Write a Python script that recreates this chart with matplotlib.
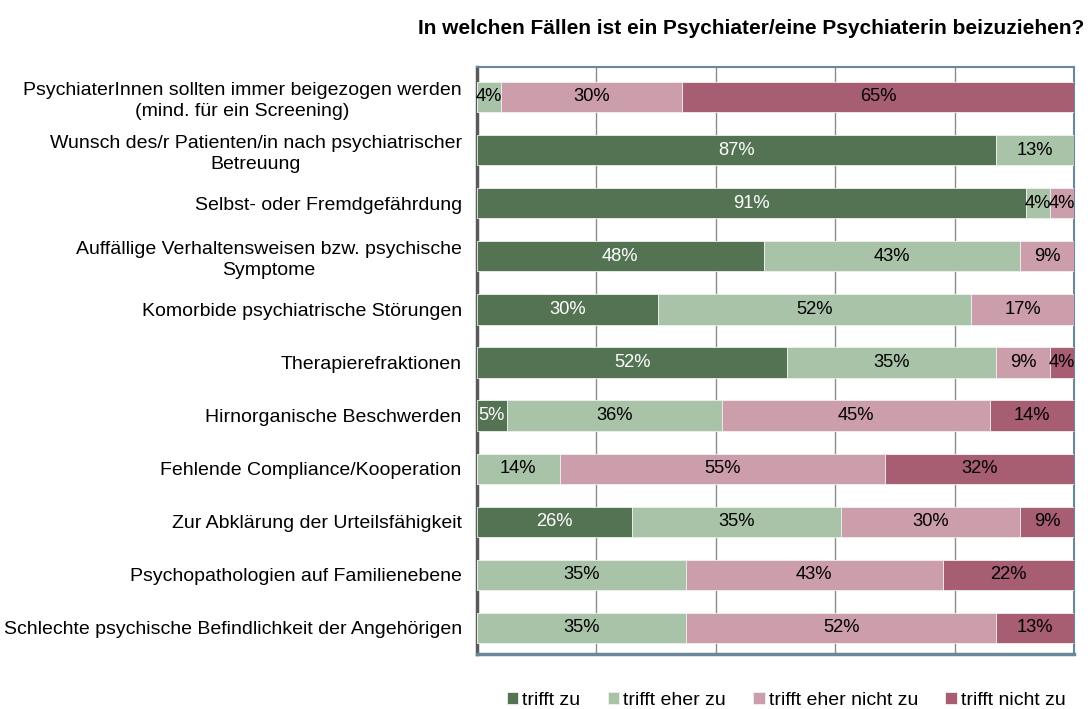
import matplotlib
matplotlib.use("Agg")
import matplotlib.pyplot as plt
import numpy as np

plt.rcParams['font.family'] = ['Liberation Sans', 'DejaVu Sans']

categories = [
    "PsychiaterInnen sollten immer beigezogen werden\n(mind. für ein Screening)",
    "Wunsch des/r Patienten/in nach psychiatrischer\nBetreuung",
    "Selbst- oder Fremdgefährdung",
    "Auffällige Verhaltensweisen bzw. psychische\nSymptome",
    "Komorbide psychiatrische Störungen",
    "Therapierefraktionen",
    "Hirnorganische Beschwerden",
    "Fehlende Compliance/Kooperation",
    "Zur Abklärung der Urteilsfähigkeit",
    "Psychopathologien auf Familienebene",
    "Schlechte psychische Befindlichkeit der Angehörigen",
]
series_names = ["trifft zu", "trifft eher zu", "trifft eher nicht zu", "trifft nicht zu"]
trifft_zu         = [0, 87, 91, 48, 30, 52, 5, 0, 26, 0, 0]
trifft_eher_zu    = [4, 13, 4, 43, 52, 35, 36, 14, 35, 35, 35]
eher_nicht_zu     = [30, 0, 4, 9, 17, 9, 45, 55, 30, 43, 52]
trifft_nicht_zu   = [65, 0, 0, 0, 0, 4, 14, 32, 9, 22, 13]
title = "In welchen Fällen ist ein Psychiater/eine Psychiaterin beizuziehen?"

colors = ["#537352", "#a9c3a8", "#cc9daa", "#a85e72"]
text_colors = ["white", "black", "black", "black"]

FS = 14.0

data = np.array([trifft_zu, trifft_eher_zu, eher_nicht_zu, trifft_nicht_zu], dtype=float)
totals = data.sum(axis=0)
norm = data / totals * 100

fig = plt.figure(figsize=(10.88, 7.09), dpi=100)
ax = fig.add_axes([0.4384, 0.0776, 0.5487, 0.8279])

y = np.arange(len(categories))
left = np.zeros(len(categories))
for k in range(4):
    ax.barh(y, norm[k], left=left, height=0.57, color=colors[k],
            edgecolor="#f0f0f0", linewidth=0.6, label=series_names[k], zorder=3)
    for i in range(len(categories)):
        v = data[k][i]
        if v > 0:
            ax.text(left[i] + norm[k][i] / 2, y[i], f"{int(v)}%", ha="center", va="center",
                    fontsize=13.2, color=text_colors[k], zorder=4)
    left += norm[k]

ax.set_xlim(0, 100)
ax.set_ylim(10.49, -0.565)
ax.set_xticks([0, 20, 40, 60, 80, 100])
ax.set_xticklabels([])
ax.tick_params(axis="x", length=0)
ax.xaxis.grid(True, color="#8c8c8c", linewidth=1, zorder=0)
ax.set_axisbelow(True)
ax.set_yticks(y)
ax.set_yticklabels(categories, fontsize=FS, linespacing=1.3)
for lab in ax.get_yticklabels():
    lab.set_multialignment("center")
ax.tick_params(axis="y", length=0, pad=11)

ax.spines["left"].set_color("#5a5a5a")
ax.spines["left"].set_linewidth(2.5)
for s in ["top", "right"]:
    ax.spines[s].set_color("#6a8799")
    ax.spines[s].set_linewidth(1.5)
ax.spines["bottom"].set_color("#6a8799")
ax.spines["bottom"].set_linewidth(2.5)

fig.text(0.997, 0.96, title, ha="right", va="center", fontsize=15, fontweight="bold")

fig.legend(loc="center", bbox_to_anchor=(0.7225, 0.012), ncol=4, frameon=False,
           fontsize=FS, handlelength=0.6, handleheight=0.6, handletextpad=0.2,
           columnspacing=1.4)

fig.savefig("out.png", dpi=100)
